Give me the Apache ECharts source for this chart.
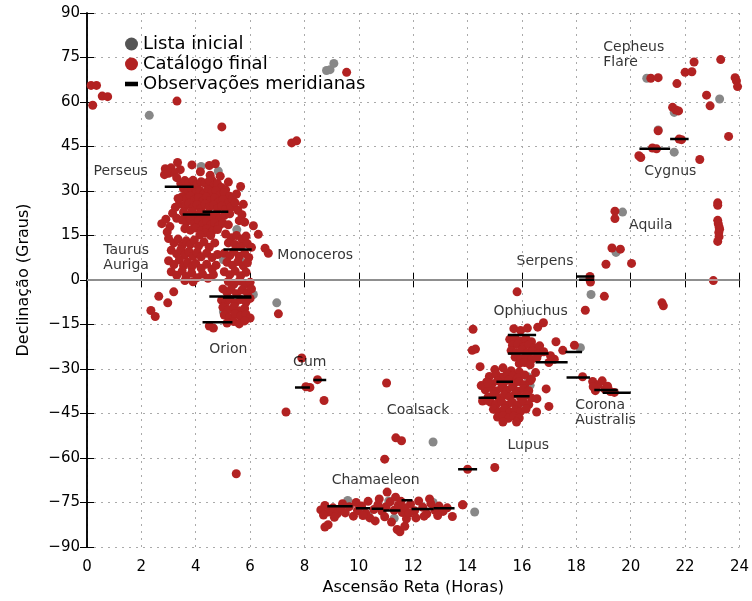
<!DOCTYPE html>
<html><head><meta charset="utf-8">
<script src="https://cdn.jsdelivr.net/npm/echarts@6/dist/echarts.min.js"></script>
<style>html,body{margin:0;padding:0;background:#fff}#c{width:752px;height:601px}</style>
</head><body><div id="c"></div>
<script>
// Tick values
const raTicks = [0, 2, 4, 6, 8, 10, 12, 14, 16, 18, 20, 22, 24];
const decTicks = [-90, -75, -60, -45, -30, -15, 0, 15, 30, 45, 60, 75, 90];

// Catálogo final (red) — [RA hours, Dec degrees]
const redNorth = [
  [0.15,65.6],[0.35,65.6],[0.56,62.0],[0.76,61.8],[0.21,58.9],[3.31,60.3],[4.96,51.6],
  [7.53,46.2],[7.71,46.9],[9.55,70.0]
];
const redPerseus = [
  [2.88,37.5],[3.09,37.8],[3.33,39.6],[3.43,37.2],[3.86,38.8],[4.5,38.6],[4.72,39.2],
  [4.17,36.5],[4.53,35.3],[4.59,33.7],[3.0,36.0],[3.2,36.2],[2.85,35.5],[2.94,36.9]
];
const redTaurus = [
  [3.45,32.5],[3.6,33.5],[3.75,32.8],[3.9,33.6],[4.05,32.2],[4.2,33.1],[4.35,32.6],[4.5,33.4],[4.65,31.8],[4.8,32.5],[4.95,31.2],[5.1,30.4],
  [3.55,30.8],[3.7,29.9],[3.85,30.6],[4.0,29.4],[4.15,30.2],[4.3,29.1],[4.45,30.5],[4.6,29.6],[4.75,30.1],[4.9,28.8],[5.05,29.5],[5.25,28.2],
  [3.5,28.1],[3.65,27.2],[3.8,28.3],[3.95,27.0],[4.1,27.8],[4.25,26.6],[4.4,27.9],[4.55,26.8],[4.7,27.6],[4.85,26.3],[5.0,27.1],[5.2,26.0],[5.35,27.3],
  [3.4,25.6],[3.6,24.8],[3.75,25.9],[3.9,24.4],[4.05,25.3],[4.2,24.1],[4.35,25.5],[4.5,24.6],[4.65,25.2],[4.8,24.0],[4.95,25.0],[5.1,23.8],[5.3,24.6],
  [3.55,22.9],[3.7,21.8],[3.85,23.1],[4.0,21.5],[4.15,22.6],[4.3,21.2],[4.45,22.4],[4.6,21.0],[4.75,22.2],[4.9,20.9],[5.05,21.7],[5.25,22.3],
  [3.3,20.8],[3.5,20.2],[3.65,19.5],[3.8,20.4],[3.95,19.0],[4.1,20.0],[4.25,18.8],[4.4,19.7],[4.55,18.5],[4.7,19.4],[4.85,18.2],[5.0,19.1],[5.2,18.6],
  [3.6,17.3],[3.8,16.8],[4.0,17.5],[4.2,16.5],[4.4,17.2],[4.6,16.4],[4.8,17.0],[4.35,15.8],[4.15,15.2],[4.55,15.0],
  [2.75,19.0],[2.9,20.5],[3.05,18.0],[2.95,16.2],[3.15,22.5],[3.25,24.5],[3.35,27.5],[5.45,26.0],[5.55,23.5],[5.7,22.0],
  [5.6,20.0],[5.5,29.0],[5.65,31.5],[5.75,25.5],[5.8,19.5],[3.3,34.5],[4.9,35.0],[5.2,33.0],
  [3.0,14.0],[3.2,12.5],[3.35,13.8],[3.5,11.6],[3.65,13.2],[3.8,12.0],[3.95,13.5],[4.1,11.4],[4.3,12.8],[4.5,11.0],[4.7,12.5],
  [3.1,10.0],[3.3,8.8],[3.45,10.2],[3.6,8.4],[3.75,9.6],[3.9,8.0],[4.05,9.3],[4.2,7.8],[4.4,9.0],[4.6,7.6],[4.8,8.6],
  [3.0,6.5],[3.2,5.2],[3.4,6.8],[3.55,4.8],[3.7,6.0],[3.85,4.4],[4.0,5.6],[4.2,4.0],[4.4,5.3],[4.6,3.6],[4.75,5.0],
  [3.1,2.8],[3.3,1.6],[3.5,3.0],[3.65,1.2],[3.85,2.4],[4.05,0.8],[4.25,2.0],[4.45,0.6],[4.65,1.8],[3.9,-0.6],[3.6,-0.2]
];
const redOrion = [
  [5.1,15.5],[5.3,14.2],[5.5,15.0],[5.7,13.8],[5.85,14.8],[5.2,12.5],[5.45,12.0],[5.65,11.2],[5.9,12.2],[6.05,11.0],
  [5.05,9.0],[5.25,8.2],[5.4,9.6],[5.6,8.0],[5.8,9.0],[5.95,7.6],[5.15,6.0],[5.35,5.0],[5.55,6.2],[5.75,4.8],[5.9,5.8],
  [5.05,2.8],[5.25,1.8],[5.45,3.0],[5.65,1.4],[5.85,2.6],[5.2,-0.5],[5.4,-1.4],[5.6,-0.3],[5.8,-1.6],[6.0,-0.8],
  [5.0,-3.0],[5.15,-4.2],[5.3,-3.2],[5.5,-4.6],[5.7,-3.4],[5.9,-4.4],[6.05,-3.0],
  [4.95,-6.8],[5.1,-7.6],[5.25,-6.4],[5.45,-7.8],[5.65,-6.6],[5.85,-7.4],[6.0,-6.2],
  [5.0,-9.2],[5.2,-10.0],[5.4,-9.0],[5.6,-10.4],[5.8,-9.6],[5.05,-11.8],[5.25,-12.6],[5.45,-11.4],[5.65,-12.2],[5.85,-11.6],[6.0,-12.8],
  [5.15,-14.5],[5.4,-14.0],[5.6,-14.8],[5.8,-13.8],[4.5,-15.5],[4.65,-16.2],
  [2.64,-5.5],[2.97,-7.7],[3.19,-4.0],[2.35,-10.3],[2.51,-12.3],[6.55,10.7],[6.67,9.0],[6.12,18.3],[6.3,15.4],[7.04,-11.4],
  [5.49,-65.3]
];
const redGumCoalsack = [
  [7.9,-26.3],[8.2,-36.2],[8.05,-36.0],[8.48,-33.6],[8.72,-40.6],[7.32,-44.5],[11.02,-34.7],
  [11.36,-53.2],[11.57,-54.2],[10.95,-60.4],[14.0,-63.8],[15.0,-63.2],[13.81,-75.8]
];
const redChamaeleon = [
  [11.04,-71.5],[10.34,-74.6],[8.75,-83.3],[8.87,-82.5],[11.41,-84.1],[11.51,-84.9],[11.69,-83.0],[13.44,-79.7],[13.83,-75.8],
  [8.6,-77.5],[8.75,-76.0],[8.9,-78.2],[9.05,-76.8],[9.2,-78.8],[9.35,-77.0],[9.5,-78.5],[9.65,-76.4],[9.8,-79.6],[9.95,-77.8],
  [10.1,-76.2],[10.25,-78.6],[10.4,-80.2],[10.55,-77.4],[10.7,-75.8],[10.85,-78.0],[11.0,-76.4],[11.15,-74.8],[11.3,-77.6],
  [11.45,-76.0],[11.6,-78.4],[11.75,-80.5],[11.9,-75.6],[12.05,-77.8],[12.2,-74.5],[12.35,-76.6],[12.5,-78.8],[12.65,-75.4],
  [12.8,-77.6],[12.95,-76.2],[13.1,-78.0],[13.25,-76.8],[8.7,-79.2],[9.1,-80.0],[9.4,-75.4],[9.9,-75.0],[10.15,-79.4],
  [10.6,-81.2],[10.95,-79.8],[11.2,-81.6],[11.55,-74.6],[11.7,-76.8],[11.85,-78.6],[12.1,-80.2],[12.4,-79.6],[12.6,-73.8],
  [12.9,-79.4],[11.35,-73.2],[10.75,-73.8]
];
const redOphiuchus = [
  [15.7,-16.4],[15.95,-17.0],[16.2,-16.2],[16.58,-15.9],[16.79,-14.4],
  [15.55,-20.0],[15.75,-19.6],[15.95,-20.6],[16.15,-19.8],[16.35,-20.8],
  [15.65,-22.0],[15.85,-21.6],[16.05,-22.6],[16.25,-21.8],[16.45,-22.8],[16.65,-22.2],
  [15.6,-23.8],[15.8,-24.4],[16.0,-23.6],[16.2,-24.6],[16.4,-24.0],[16.6,-24.9],[16.8,-24.2],
  [15.75,-26.0],[15.95,-26.6],[16.15,-25.8],[16.35,-26.8],[16.55,-26.2],
  [15.9,-28.2],[16.1,-27.8],[16.3,-28.6],
  [16.99,-27.8],[17.19,-26.7],[17.25,-20.8],[17.5,-23.7],[17.93,-22.0],[17.05,-25.5],
  [14.2,-16.6],[14.17,-23.7],[14.29,-23.3],[14.46,-29.2],[15.82,-4.0],[18.23,-32.6]
];
const redLupus = [
  [15.0,-30.2],[15.3,-29.6],[15.6,-30.6],[15.9,-31.0],
  [14.8,-32.5],[15.05,-31.8],[15.25,-32.8],[15.45,-31.6],[15.65,-32.4],[15.85,-33.0],[16.1,-32.0],
  [14.7,-34.4],[14.9,-35.0],[15.1,-34.0],[15.3,-35.2],[15.5,-33.8],[15.7,-35.0],[15.9,-34.2],[16.1,-35.3],[16.3,-34.0],
  [14.65,-37.0],[14.85,-36.2],[15.05,-37.4],[15.25,-36.4],[15.45,-37.2],[15.65,-36.0],[15.85,-37.5],[16.05,-36.6],[16.25,-37.3],
  [14.75,-39.5],[14.95,-38.6],[15.15,-39.8],[15.35,-38.8],[15.55,-39.4],[15.75,-38.4],[15.95,-39.6],[16.15,-38.7],[16.35,-39.8],
  [14.85,-41.2],[15.05,-42.0],[15.25,-41.0],[15.45,-42.2],[15.65,-41.3],[15.85,-42.1],[16.05,-41.0],[16.25,-42.0],
  [14.95,-43.6],[15.15,-44.4],[15.35,-43.4],[15.55,-44.6],[15.75,-43.8],[15.95,-44.3],[16.15,-43.5],
  [15.1,-46.2],[15.3,-45.8],[15.5,-46.6],[15.7,-45.9],[15.9,-46.5],
  [15.3,-47.9],[15.8,-47.9],[16.54,-44.5],[16.99,-42.6],[16.89,-36.7],[16.55,-40.0],[14.5,-35.6],[14.55,-40.8],
  [16.5,-31.2],[16.35,-33.4],[14.74,-34.8],[14.74,-40.6]
];
const redCorona = [
  [18.6,-34.2],[18.8,-35.3],[18.95,-34.0],[18.7,-37.3],[19.05,-36.8],[19.25,-37.6],[18.62,-36.0],[19.4,-37.9],[19.15,-35.8]
];
const redEast = [
  [18.5,1.2],[18.5,0.1],[18.52,-0.7],[19.03,-5.5],[19.09,5.3],[20.03,5.6],[19.31,10.8],[19.62,10.4],
  [19.42,23.2],[19.42,20.7],[23.2,26.0],[23.2,25.2],[23.2,20.1],[23.22,19.0],[23.25,17.9],[23.27,17.1],[23.24,16.0],
  [23.25,14.6],[23.2,13.0],[23.04,-0.2],[21.15,-7.7],[21.2,-8.7],[18.33,-10.2],
  [20.8,44.5],[20.95,44.2],[20.3,41.9],[20.37,41.3],[21.01,50.3],[21.78,47.5],[21.87,47.3],[22.54,40.6],[23.6,48.4],
  [21.54,58.2],[21.66,57.3],[21.76,57.0],[22.79,62.3],[22.92,58.7],[20.74,68.0],[21.01,68.2],[21.7,66.2],
  [22.0,70.0],[22.25,70.2],[22.33,73.5],[23.31,74.3],[23.84,68.2],[23.89,67.1],[23.93,65.2]
];

// Lista inicial (gray)
const grayPoints = [
  [2.29,55.5],[8.81,70.6],[8.94,70.9],[9.08,73.0],[4.2,38.3],[4.83,36.7],[5.51,17.0],[5.02,6.8],[5.67,6.2],
  [6.12,-4.9],[5.02,-10.7],[5.76,-12.7],[6.98,-7.7],[12.73,-54.6],[14.26,-78.2],
  [9.59,-74.3],[10.1,-77.2],[11.3,-80.3],[11.1,-74.5],[12.73,-75.0],[10.35,-79.5],
  [16.21,-32.6],[16.3,-35.5],[18.15,-22.8],[18.54,-4.9],[19.46,9.3],[19.7,22.9],
  [20.59,68.0],[21.01,50.6],[21.6,43.1],[21.6,56.5],[23.27,61.0]
];

// Observações meridianas: [RA start, RA end, Dec]
const meridianSegments = [
  [2.86,3.92,31.4],[3.52,4.53,22.1],[4.25,5.2,23.0],[5.02,6.06,10.3],[4.5,6.04,-5.6],[5.0,6.05,-5.9],[4.25,5.35,-14.2],
  [7.65,8.2,-36.2],[8.33,8.8,-33.7],[13.65,14.35,-63.8],
  [8.84,9.77,-76.3],[9.89,10.41,-76.9],[10.47,10.9,-77.1],[10.9,11.53,-77.7],[11.57,11.97,-74.2],[11.94,12.75,-77.2],[12.75,13.52,-76.9],
  [15.48,16.52,-18.5],[15.48,16.98,-24.8],[16.5,17.68,-27.7],[17.6,18.21,-24.3],[17.64,18.5,-32.9],
  [14.4,15.06,-39.7],[15.06,15.67,-34.3],[15.7,16.28,-39.2],[18.66,19.52,-37.1],[18.97,20.0,-38.0],
  [18.0,18.66,1.2],[18.1,18.66,0.1],[20.32,21.45,44.2],[21.45,22.13,47.5]
];

// Region labels: [RA, Dec, text]
const regionLabels = [
  [0.24,36.5,'Perseus'],[0.6,7.4,'Taurus\nAuriga'],[7.0,8.4,'Monoceros'],[4.5,-23.4,'Orion'],
  [7.58,-27.8,'Gum'],[11.03,-43.9,'Coalsack'],[9.0,-67.6,'Chamaeleon'],[15.47,-55.6,'Lupus'],
  [17.96,-44.9,'Corona\nAustralis'],[14.95,-10.7,'Ophiuchus'],[15.8,6.4,'Serpens'],[19.94,18.4,'Aquila'],
  [20.5,36.5,'Cygnus'],[18.99,76.0,'Cepheus\nFlare']
];

const redAll = [].concat(redNorth, redPerseus, redTaurus, redOrion, redGumCoalsack, redChamaeleon, redOphiuchus, redLupus, redCorona, redEast);
const FONT = 'DejaVu Sans';
const minus = v => String(v).replace('-', '\u2212');

const segSeries = meridianSegments.map(s => ({
  name: 'Observações meridianas', type: 'line', symbol: 'none', showSymbol: false, z: 5,
  lineStyle: { color: '#000', width: 2.5 }, itemStyle: { color: '#000' },
  data: [[s[0], s[2]], [s[1], s[2]]], silent: true, animation: false
}));

const chart = echarts.init(document.getElementById('c'));
chart.setOption({
  animation: false,
  backgroundColor: '#fff',
  grid: { left: 87, right: 11, top: 13, bottom: 50 },
  legend: {
    orient: 'vertical', left: 120, top: 30, itemGap: 2, itemWidth: 13, itemHeight: 13,
    textStyle: { fontFamily: FONT, fontSize: 18, color: '#000', padding: [0, 0, 0, 0] },
    data: [
      { name: 'Lista inicial', icon: 'circle', itemStyle: { color: '#555' } },
      { name: 'Catálogo final', icon: 'circle' },
      { name: 'Observações meridianas', icon: 'path://M0,0H20V7H0Z', itemStyle: { color: '#000' } }
    ]
  },
  xAxis: [{
    type: 'value', min: 0, max: 24, interval: 2, position: 'bottom',
    name: 'Ascensão Reta (Horas)', nameLocation: 'middle', nameGap: 33,
    nameTextStyle: { fontFamily: FONT, fontSize: 16, color: '#000' },
    axisLine: { lineStyle: { color: '#000', width: 1.5 } },
    axisTick: { inside: true, length: 7, lineStyle: { color: '#000' } },
    axisLabel: { fontFamily: FONT, fontSize: 15, color: '#000', margin: 13 },
    splitLine: { show: true, lineStyle: { color: '#aaa', type: [2, 5], width: 1 } }
  }, {
    type: 'value', min: 0, max: 24, interval: 2, position: 'top',
    axisLine: { show: true, lineStyle: { color: '#000', width: 1.5 } },
    axisTick: { inside: true, length: 7, lineStyle: { color: '#000' } },
    axisLabel: { show: false }, splitLine: { show: false }
  }],
  yAxis: [{
    type: 'value', min: -90, max: 90, interval: 15, position: 'left',
    name: 'Declinação (Graus)', nameLocation: 'middle', nameGap: 55, nameRotate: 90,
    nameTextStyle: { fontFamily: FONT, fontSize: 16, color: '#000' },
    axisLine: { show: true, lineStyle: { color: '#000', width: 1.5 } },
    axisTick: { show: true, inside: true, length: 7, lineStyle: { color: '#000' } },
    axisLabel: { fontFamily: FONT, fontSize: 15, color: '#000', margin: 7, formatter: minus },
    splitLine: { show: true, lineStyle: { color: '#aaa', type: [2, 5], width: 1 } }
  }, {
    type: 'value', min: -90, max: 90, interval: 15, position: 'right',
    axisLine: { show: true, lineStyle: { color: '#000', width: 1.5 } },
    axisTick: { show: true, inside: true, length: 7, lineStyle: { color: '#000' } },
    axisLabel: { show: false }, splitLine: { show: false }
  }],
  series: [
    {
      name: 'Lista inicial', type: 'scatter', symbolSize: 9, z: 3,
      itemStyle: { color: '#888', opacity: 1 }, data: grayPoints,
      markLine: {
        silent: true, symbol: 'none', label: { show: false },
        lineStyle: { color: '#bbb', width: 1.5, type: 'solid' },
        data: [{ yAxis: 0 }]
      }
    },
    {
      name: 'Catálogo final', type: 'scatter', symbolSize: 9, z: 4,
      itemStyle: { color: '#b22222', opacity: 1 }, data: redAll
    },
    ...segSeries,
    {
      name: 'labels', type: 'scatter', symbolSize: 0, z: 6, silent: true,
      data: regionLabels.map(l => ({ value: [l[0], l[1]], name: l[2] })),
      label: {
        show: true, position: 'right', distance: 0, formatter: p => p.name,
        fontFamily: FONT, fontSize: 14, color: '#000', lineHeight: 15, align: 'left'
      }
    }
  ]
});
</script></body></html>
